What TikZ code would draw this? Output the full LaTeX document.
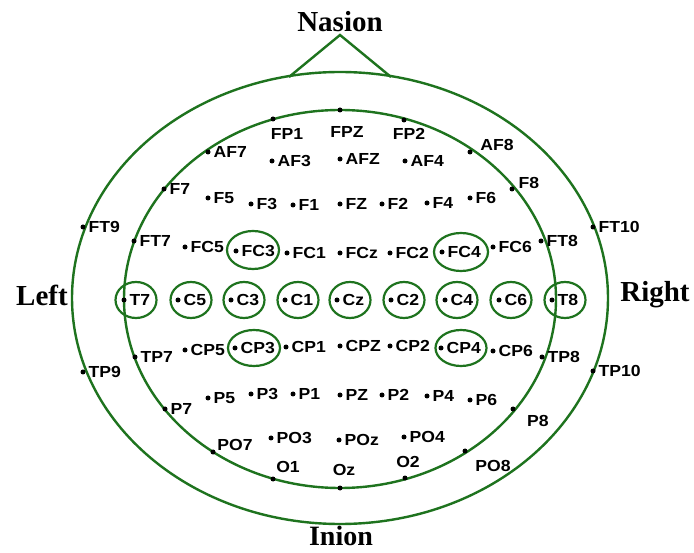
\documentclass[tikz,border=0pt]{standalone}
\usepackage{fontspec}
\setmainfont{Liberation Serif}
\newfontfamily\labfont{Liberation Sans}[FakeStretch=1.1]
\usetikzlibrary{shapes.geometric}
\definecolor{headgreen}{RGB}{30,115,30}
\tikzset{
  edot/.style={circle, fill=black, inner sep=0pt, minimum size=5pt},
  elab/.style={font=\labfont\bfseries\fontsize{16}{16}\selectfont, inner sep=0pt, text=black},
  ring/.style={ellipse, draw=headgreen, line width=2.2pt, inner sep=0pt, minimum width=41pt, minimum height=36pt},
  head/.style={draw=headgreen, line width=2.4pt},
  side/.style={font=\bfseries\fontsize{29}{29}\selectfont, inner sep=0pt},
}
% electrode with label to the right
\newcommand\electr[4]{\node[edot] (#1) at (#2,#3) {}; \node[elab, anchor=west] (#1-l) at ([xshift=5.5pt]#1.center) {#4};}
% electrode with label centred at a given point
\newcommand\electrat[6]{\node[edot] (#1) at (#2,#3) {}; \node[elab] (#1-l) at (#4,#5) {#6};}
\begin{document}
\begin{tikzpicture}[x=1pt,y=-1pt]
\useasboundingbox (0,0) rectangle (694,553);
\fill[white] (0,0) rectangle (694,553);
% head
\draw[head] (340,298) ellipse [x radius=268, y radius=226];
\draw[head] (340,299) ellipse [x radius=216, y radius=189];
\draw[head, line join=miter] (289,77) -- (340,35) -- (391,77);
% titles
\node[side] (nasion) at (340,22) {Nasion};
\node[side] (left) at (42,295) {Left};
\node[side] (right) at (655,295) {Right};
\node[side, font=\bfseries\fontsize{28}{28}\selectfont] (inion) at (341,536) {Inion};
% rings
\foreach \n/\x in {rT7/136, rC5/191, rC3/244, rC1/298, rCz/350, rC2/404, rC4/457, rC6/511, rT8/565}
  \node[ring] (\n) at (\x,300) {};
\node[ring, minimum width=52pt, minimum height=38pt] (rFC3) at (253,250) {};
\node[ring, minimum width=54pt, minimum height=38pt] (rFC4) at (461,252) {};
\node[ring, minimum width=52pt, minimum height=36pt] (rCP3) at (254,348) {};
\node[ring, minimum width=51pt, minimum height=36pt] (rCP4) at (461,348) {};
% frontal pole
\electrat{FP1}{273}{119}{287}{134}{FP1}
\electrat{FPZ}{340}{110}{347}{132}{FPZ}
\electrat{FP2}{404}{120}{409}{134}{FP2}
% AF
\electr{AF7}{208}{152}{AF7}
\electr{AF3}{272}{161}{AF3}
\electr{AFZ}{340}{159}{AFZ}
\electr{AF4}{405}{161}{AF4}
\electrat{AF8}{470}{152}{497}{145}{AF8}
% F
\electr{F7}{164}{189}{F7}
\electr{F5}{208}{198}{F5}
\electr{F3}{251}{204}{F3}
\electr{F1}{293}{205}{F1}
\electr{FZ}{340}{204}{FZ}
\electr{F2}{382}{204}{F2}
\electr{F4}{427}{203}{F4}
\electr{F6}{470}{198}{F6}
\electrat{F8}{512}{189}{529}{183}{F8}
% FT / FC
\electr{FT9}{83}{227}{FT9}
\electr{FT7}{134}{241}{FT7}
\electr{FC5}{185}{247}{FC5}
\electr{FC3}{236}{251}{FC3}
\electr{FC1}{287}{253}{FC1}
\electr{FCz}{340}{253}{FCz}
\electr{FC2}{390}{253}{FC2}
\electr{FC4}{442}{252}{FC4}
\electr{FC6}{493}{247}{FC6}
\electr{FT8}{541}{241}{FT8}
\electr{FT10}{593}{227}{FT10}
% central row
\electr{T7}{124}{300}{T7}
\electr{C5}{178}{300}{C5}
\electr{C3}{231}{300}{C3}
\electr{C1}{285}{300}{C1}
\electr{Cz}{337}{300}{Cz}
\electr{C2}{391}{300}{C2}
\electr{C4}{445}{300}{C4}
\electr{C6}{499}{300}{C6}
\electr{T8}{552}{300}{T8}
% TP / CP
\electr{TP9}{83}{372}{TP9}
\electr{TP7}{135}{357}{TP7}
\electr{CP5}{185}{350}{CP5}
\electr{CP3}{235}{348}{CP3}
\electr{CP1}{286}{347}{CP1}
\electr{CPZ}{340}{346}{CPZ}
\electr{CP2}{390}{346}{CP2}
\electr{CP4}{441}{348}{CP4}
\electr{CP6}{493}{351}{CP6}
\electr{TP8}{542}{357}{TP8}
\electr{TP10}{593}{371}{TP10}
% P
\electr{P7}{165}{409}{P7}
\electr{P5}{208}{398}{P5}
\electr{P3}{251}{394}{P3}
\electr{P1}{293}{394}{P1}
\electr{PZ}{340}{395}{PZ}
\electr{P2}{382}{395}{P2}
\electr{P4}{427}{396}{P4}
\electr{P6}{470}{400}{P6}
\electrat{P8}{513}{409}{538}{421}{P8}
% PO
\electrat{PO7}{213}{452}{235}{445}{PO7}
\electr{PO3}{271}{438}{PO3}
\electr{POz}{339}{440}{POz}
\electr{PO4}{404}{437}{PO4}
\electrat{PO8}{465}{451}{493}{466}{PO8}
% O
\electrat{O1}{273}{479}{288}{467}{O1}
\electrat{Oz}{340}{488}{344}{470}{Oz}
\electrat{O2}{405}{478}{408}{462}{O2}
\end{tikzpicture}
\end{document}
